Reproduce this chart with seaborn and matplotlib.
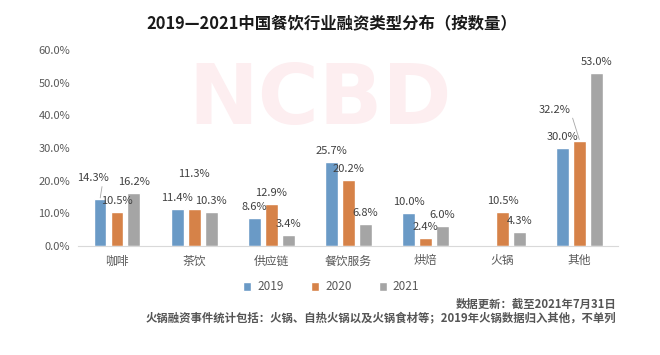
import matplotlib
matplotlib.use('Agg')
import matplotlib.pyplot as plt
import seaborn as sns
import pandas as pd
import numpy as np

categories = ['咖啡', '茶饮', '供应链', '餐饮服务', '烘焙', '火锅', '其他']
years = ['2019', '2020', '2021']
share_2019 = [14.3, 11.4, 8.6, 25.7, 10.0, np.nan, 30.0]
share_2020 = [10.5, 11.3, 12.9, 20.2, 2.4, 10.5, 32.2]
share_2021 = [16.2, 10.3, 3.4, 6.8, 6.0, 4.3, 53.0]
yticks = [0, 10, 20, 30, 40, 50, 60]

colors = ['#5B9BD5', '#ED7D31', '#A5A5A5']

df = pd.DataFrame({
    'cat': categories * 3,
    'year': [y for y in years for _ in categories],
    'val': share_2019 + share_2020 + share_2021,
})

sns.set_style('white')
plt.rcParams['font.family'] = ['Noto Sans CJK SC', 'DejaVu Sans']

fig = plt.figure(figsize=(6.6, 3.55), dpi=100)
ax = fig.add_axes([0.1188, 0.307, 0.818, 0.552])

# watermark
ax.text(0.447, 0.745, 'NCBD', transform=ax.transAxes, fontsize=60, fontweight='bold',
        color='#fdeef0', ha='center', va='center', zorder=0, family='DejaVu Sans')

sns.barplot(data=df, x='cat', y='val', hue='year', palette=colors, order=categories,
            hue_order=years, width=0.66, gap=0.24, ax=ax, legend=True, zorder=2)

ax.set_ylim(0, 60)
ax.set_xlim(-0.5, 6.5)
ax.set_yticks(yticks)
ax.set_yticklabels([f'{t:.1f}%' for t in yticks], fontsize=8, color='#595959')
ax.tick_params(axis='x', labelsize=8.5, labelcolor='#595959', length=0, pad=6)
ax.tick_params(axis='y', length=0, pad=6)
ax.set_xlabel('')
ax.set_ylabel('')
for s in ['top', 'right', 'left']:
    ax.spines[s].set_visible(False)
ax.spines['bottom'].set_color('#d9d9d9')
ax.spines['bottom'].set_linewidth(0.8)

# label offsets (pixels) for the few labels that sit away from their bars
special = {
    ('咖啡', '2019'): (-7, 21, (0.8, 0.0)),
    ('茶饮', '2020'): (0, 35, None),
    ('其他', '2020'): (-25, 31, (1.0, 0.3)),
}

slot = 0.66 / 3
for h, yr in enumerate(years):
    vals = df[df['year'] == yr]['val'].tolist()
    for i, v in enumerate(vals):
        if np.isnan(v):
            continue
        x = i + (h - 1) * slot
        dx, dy, rel = special.get((categories[i], yr), (0, 11, None))
        kw = {}
        if rel is not None:
            kw['arrowprops'] = dict(arrowstyle='-', color='#a6a6a6', lw=0.6,
                                    relpos=rel, shrinkA=0, shrinkB=1)
        ax.annotate(f'{v:.1f}%', xy=(x, v), xytext=(dx, dy), textcoords='offset pixels',
                    ha='center', va='center', fontsize=8, color='#404040', zorder=3, **kw)

handles, labels = ax.get_legend_handles_labels()
ax.get_legend().remove()
fig.legend(handles, labels, loc='center', bbox_to_anchor=(0.502, 1 - 287 / 355), ncol=3,
           frameon=False, fontsize=8.5, handlelength=0.7, handleheight=0.7,
           handletextpad=0.5, columnspacing=2.3, labelcolor='#595959')

fig.text(0.502, 1 - 23 / 355, '2019—2021中国餐饮行业融资类型分布（按数量）', ha='center',
         va='center', fontsize=11.8, fontweight='bold', color='#1a1a1a')
fig.text(616 / 660, 1 - 304 / 355, '数据更新：截至2021年7月31日', ha='right', va='center',
         fontsize=8.2, color='#555555', fontweight='bold')
fig.text(616 / 660, 1 - 318 / 355,
         '火锅融资事件统计包括：火锅、自热火锅以及火锅食材等；2019年火锅数据归入其他，不单列',
         ha='right', va='center', fontsize=8.2, color='#555555', fontweight='bold')

fig.savefig('out.png', dpi=100)
